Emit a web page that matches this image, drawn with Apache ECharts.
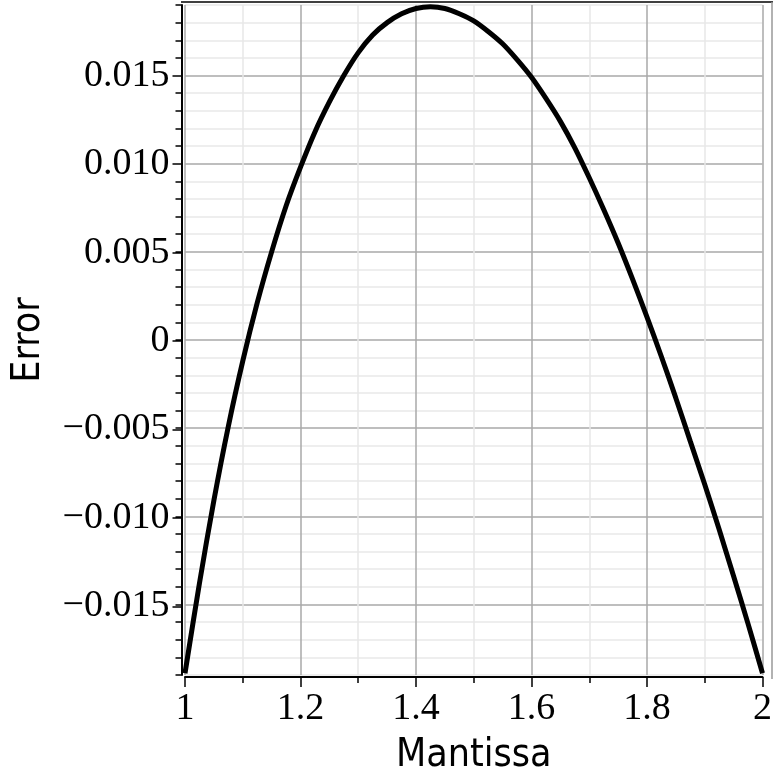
<!DOCTYPE html>
<html>
<head>
<meta charset="utf-8">
<script src="https://cdn.jsdelivr.net/npm/echarts@6/dist/echarts.min.js"></script>
<style>
html,body{margin:0;padding:0;background:#fff;}
#chart{width:775px;height:780px;}
</style>
</head>
<body>
<div id="chart"></div>
<script>
// Data
var mantissa = [1.000, 1.025, 1.050, 1.075, 1.100, 1.125, 1.150, 1.175, 1.200, 1.225,
                1.250, 1.275, 1.300, 1.325, 1.350, 1.375, 1.400, 1.425, 1.450, 1.475,
                1.500, 1.525, 1.550, 1.575, 1.600, 1.625, 1.650, 1.675, 1.700, 1.725,
                1.750, 1.775, 1.800, 1.825, 1.850, 1.875, 1.900, 1.925, 1.950, 1.975, 2.000];
var errorVals = [-0.0189, -0.0138, -0.0091, -0.0049, -0.0012, 0.0021, 0.0050, 0.0076, 0.0098, 0.0118,
                 0.0135, 0.0150, 0.0163, 0.0173, 0.0180, 0.0185, 0.0188, 0.0189, 0.0188, 0.0185,
                 0.0181, 0.0175, 0.0168, 0.0159, 0.0149, 0.0137, 0.0124, 0.0109, 0.0092, 0.0074,
                 0.0055, 0.00345, 0.0013, -0.00095, -0.0033, -0.00575, -0.0082, -0.01075, -0.0134, -0.0161, -0.0189];
var xTickLabels = ['1', '1.2', '1.4', '1.6', '1.8', '2'];
var yTickLabels = ['\u22120.015', '\u22120.010', '\u22120.005', '0', '0.005', '0.010', '0.015'];

var xMin = 1, xMax = 2, yMin = -0.019, yMax = 0.019;
var majorColor = '#a9a9a9', minorColor = '#e8e8e8';

var chart = echarts.init(document.getElementById('chart'));
var pts = mantissa.map(function (x, i) { return [x, errorVals[i]]; });

var gridLeft = 185, gridTop = 5, gridW = 583, gridH = 672;
var pxPerUnit = gridH / (yMax - yMin);

chart.setOption({
  animation: false,
  backgroundColor: '#fff',
  grid: [
    { left: gridLeft, top: gridTop, width: gridW, height: gridH },
    { left: gridLeft, top: gridTop + (yMax - 0.015) * pxPerUnit, width: gridW, height: 0.030 * pxPerUnit }
  ],
  xAxis: [
    {
      type: 'value', gridIndex: 0, min: xMin, max: xMax, interval: 0.2,
      offset: 2,
      axisLine: { show: true, onZero: false, lineStyle: { color: '#000', width: 2 } },
      axisTick: { show: true, inside: false, length: 10, lineStyle: { color: '#000', width: 1.5 } },
      minorTick: { show: true, splitNumber: 2, length: 6, lineStyle: { color: '#000', width: 1.5 } },
      splitLine: { show: true, lineStyle: { color: majorColor, width: 1.5 } },
      minorSplitLine: { show: true, lineStyle: { color: minorColor, width: 1.5 } },
      axisLabel: {
        margin: 13, color: '#000', fontFamily: 'Liberation Serif', fontSize: 38,
        formatter: function (v) { var i = Math.round((v - xMin) / 0.2); return xTickLabels[i] || ''; }
      },
      name: 'Mantissa', nameLocation: 'middle', nameGap: 59,
      nameTextStyle: { color: '#000', fontFamily: 'DejaVu Sans Condensed, DejaVu Sans', fontSize: 39 }
    },
    { type: 'value', gridIndex: 1, min: xMin, max: xMax, show: false }
  ],
  yAxis: [
    {
      type: 'value', gridIndex: 0, min: yMin, max: yMax, interval: 0.001,
      offset: 3.5,
      axisLine: { show: true, onZero: false, lineStyle: { color: '#000', width: 2 } },
      axisTick: { show: true, inside: false, length: 6, lineStyle: { color: '#000', width: 1.5 } },
      splitLine: { show: true, lineStyle: { color: [minorColor, minorColor, minorColor, minorColor, majorColor], width: 1.5 } },
      axisLabel: { show: false },
      name: 'Error', nameLocation: 'middle', nameRotate: 90, nameGap: 133,
      nameTextStyle: { color: '#000', fontFamily: 'DejaVu Sans Condensed, DejaVu Sans', fontSize: 39 }
    },
    {
      type: 'value', gridIndex: 1, min: -0.015, max: 0.015, interval: 0.005,
      offset: 3.5,
      axisLine: { show: false },
      axisTick: { show: true, inside: false, length: 9, lineStyle: { color: '#000', width: 1.5 } },
      splitLine: { show: false },
      axisLabel: {
        margin: 12, color: '#000', fontFamily: 'Liberation Serif', fontSize: 38,
        formatter: function (v) { var i = Math.round((v + 0.015) / 0.005); return yTickLabels[i] || ''; }
      }
    }
  ],
  graphic: [
    { type: 'line', shape: { x1: 181, y1: 2, x2: 773, y2: 2 }, style: { stroke: '#000', lineWidth: 1.5 }, z: 10 },
    { type: 'line', shape: { x1: 772, y1: 2, x2: 772, y2: 679 }, style: { stroke: '#999', lineWidth: 1.5 }, z: 10 }
  ],
  series: [{
    type: 'line', xAxisIndex: 0, yAxisIndex: 0,
    data: pts, smooth: 0.3, showSymbol: false, clip: false,
    lineStyle: { color: '#000', width: 5 }
  }]
});
</script>
</body>
</html>
